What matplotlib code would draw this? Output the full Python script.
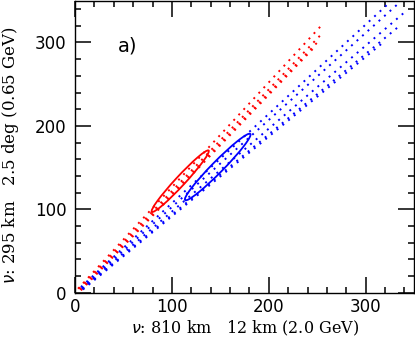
import matplotlib
matplotlib.use("Agg")
import matplotlib.pyplot as plt
from matplotlib.patches import Ellipse
import numpy as np

# dotted bands: rays from near the origin to the end points
red_start_x = [3, 4, 5, 6]
red_start_y = [5, 5, 4, 3]
red_end_x = [254, 256, 250, 246]
red_end_y = [320, 312, 300, 293]

blue_start_x = [6, 7, 7, 8, 8]
blue_start_y = [7, 6, 5, 5, 4]
blue_end_x = [322, 336, 340, 333, 318]
blue_end_y = [345, 349, 336, 318, 300]

# solid ellipses: centre, length, width, angle (data units / degrees)
ell_center = [(108.5, 133.8), (147.2, 150.8)]
ell_length = [94, 104]
ell_width = [10.5, 12.5]
ell_angle = [51.5, 49.8]
ell_color = ['red', 'blue']

fig = plt.figure(figsize=(4.15, 3.39), dpi=100)
ax = fig.add_axes([0.181, 0.136, 0.817, 0.862])

for x0, y0, x1, y1 in zip(red_start_x, red_start_y, red_end_x, red_end_y):
    ax.plot([x0, x1], [y0, y1], color='red', lw=1.4, ls=(0, (1, 2.8)))
for x0, y0, x1, y1 in zip(blue_start_x, blue_start_y, blue_end_x, blue_end_y):
    ax.plot([x0, x1], [y0, y1], color='blue', lw=1.4, ls=(0, (1, 2.8)))

for c, l, w, a, col in zip(ell_center, ell_length, ell_width, ell_angle, ell_color):
    ax.add_patch(Ellipse(c, l, w, angle=a, fill=False, edgecolor=col, lw=1.3))

ax.set_xlim(0, 350)
ax.set_ylim(0, 350)
ax.set_xticks([0, 100, 200, 300])
ax.set_yticks([0, 100, 200, 300])
ax.set_xticks(np.arange(0, 351, 20), minor=True)
ax.set_yticks(np.arange(0, 351, 20), minor=True)
ax.tick_params(which='both', direction='in', top=True, right=True, width=1.1)
ax.tick_params(which='major', length=11.5, labelsize=12, pad=6)
ax.tick_params(axis='x', which='major', pad=4)
ax.tick_params(which='minor', length=4.5)
for s in ax.spines.values():
    s.set_linewidth(1.0)

ax.set_xlabel(r'$\nu$: 810 km   12 km (2.0 GeV)', family='DejaVu Serif',
              fontsize=11.5)
ax.set_ylabel(r'$\nu$: 295 km   2.5 deg (0.65 GeV)', family='DejaVu Serif',
              fontsize=12)
ax.xaxis.set_label_coords(0.5, -0.088)
ax.yaxis.set_label_coords(-0.16, 0.473)
ax.text(44, 296, 'a)', fontsize=14, va='center')

fig.savefig('out.png', dpi=100)
